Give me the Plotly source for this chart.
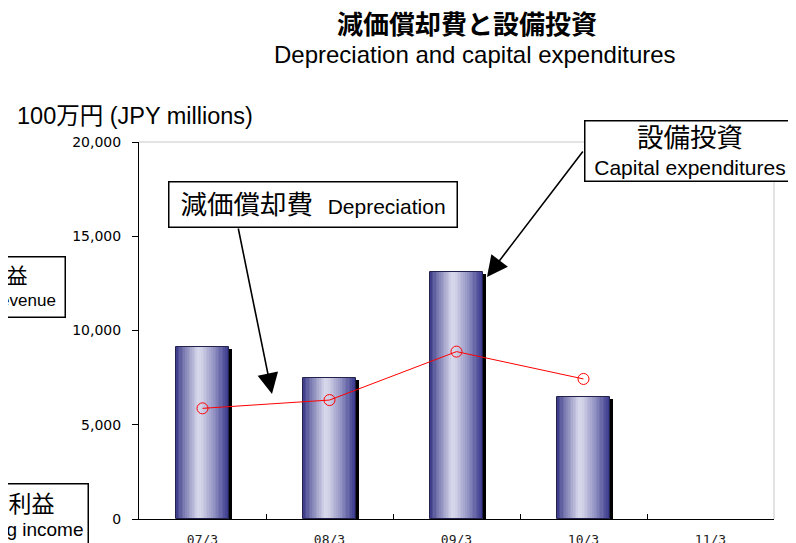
import plotly.graph_objects as go

# ─── Data ────────────────────────────────────────────────────────────
categories = ["07/3", "08/3", "09/3", "10/3", "11/3"]
capex = [9150, 7500, 13100, 6450, None]          # 設備投資 (bars)
depreciation = [5870, 6310, 8880, 7430, None]    # 減価償却費 (line)
y_ticks = [0, 5000, 10000, 15000, 20000]

# ─── Geometry / style ────────────────────────────────────────────────
# the page body adds an 8px margin, so the figure is shifted back by it
OFF = 8
W, H = 796, 543
L, R, T, B = 139 - OFF, 22 + OFF, 142 - OFF, 24 + OFF
BAR_W = 0.41
N_SLICES = 30
SANS = "Liberation Sans, Arial, Noto Sans CJK JP"
JP = "Noto Sans CJK JP"


def px(x):
    # page pixel (as seen in the screenshot) -> paper fraction
    return (x - OFF - L) / (W - L - R)


def py(y):
    return (H - B - (y - OFF)) / (H - T - B)


def bar_color(t):
    """Cylinder-like gradient: dark navy edges, pale lavender highlight."""
    dark_l, light, dark_r = (50, 50, 132), (216, 216, 236), (52, 52, 138)
    peak = 0.42
    if t <= peak:
        f = (t / peak) ** 0.8
        a, b = dark_l, light
    else:
        f = ((t - peak) / (1 - peak)) ** 1.3
        a, b = light, dark_r
    c = [round(a[i] + (b[i] - a[i]) * f) for i in range(3)]
    return f"rgb({c[0]},{c[1]},{c[2]})"


fig = go.Figure()

# shadow behind bars
shadow_dy = 2 * 20000 / (H - T - B)
fig.add_trace(go.Bar(
    x=categories,
    y=[v - shadow_dy if v is not None else None for v in capex],
    width=BAR_W, offset=-BAR_W / 2 + 3 / 127,
    marker=dict(color="black", line_width=0),
    hoverinfo="skip",
))

# gradient bars built from thin slices
sw = BAR_W / N_SLICES
for i in range(N_SLICES):
    fig.add_trace(go.Bar(
        x=categories, y=capex,
        width=sw * 1.15, offset=-BAR_W / 2 + i * sw,
        marker=dict(color=bar_color((i + 0.5) / N_SLICES), line_width=0),
        hoverinfo="skip",
    ))

# outline
fig.add_trace(go.Bar(
    x=categories, y=capex,
    width=BAR_W, offset=-BAR_W / 2,
    marker=dict(color="rgba(0,0,0,0)", line=dict(width=1, color="#22224a")),
    hovertemplate="%{x}: %{y:,}<extra>設備投資</extra>",
))

# depreciation line
fig.add_trace(go.Scatter(
    x=categories, y=depreciation,
    mode="lines+markers",
    line=dict(color="#ff0000", width=1),
    marker=dict(symbol="circle-open", size=11, color="#ff0000", line=dict(width=1)),
    hovertemplate="%{x}: %{y:,}<extra>減価償却費</extra>",
))

annotations = [
    # titles
    dict(x=px(467), y=py(22), text="<b>減価償却費と設備投資</b>",
         font=dict(family=JP, size=26, color="black")),
    dict(x=px(475), y=py(55), text="Depreciation and capital expenditures",
         font=dict(family=SANS, size=24, color="black")),
    dict(x=px(15), y=py(116), xanchor="left", text="100万円 (JPY millions)",
         font=dict(family=SANS, size=23.5, color="black")),
    # callout boxes
    dict(x=px(312.5), y=py(204), width=287, height=44,
         text="減価償却費  <span style='font-size:21px'>Depreciation</span>",
         font=dict(family=SANS, size=26.5, color="black")),
    dict(x=px(690), y=py(150.5), width=209, height=59,
         text="<span style='font-size:26.5px'>設備投資</span><br>Capital expenditures",
         font=dict(family=SANS, size=21, color="black")),
    # leftover boxes from neighbouring chart (clipped by page edge)
    dict(x=px(-15), y=py(286.5), width=158, height=59,
         text="<span style='font-size:21px'>営業収益</span><br>Operating revenue",
         font=dict(family=SANS, size=17, color="black")),
    dict(x=px(8), y=py(515), width=158, height=62,
         text="<span style='font-size:23px'>営業利益</span><br>Operating income",
         font=dict(family=SANS, size=19, color="black")),
]
for a in annotations:
    a.update(xref="paper", yref="paper", showarrow=False)
    a.setdefault("xanchor", "center")
    a.setdefault("yanchor", "middle")
    if "width" in a:
        a.update(bordercolor="black", borderwidth=1.5, borderpad=0,
                 bgcolor="white", align="center", valign="middle")

# arrows (tail -> tip, page pixels)
for (tx, ty), (hx, hy) in [((238, 227), (272, 394)), ((584, 150), (487, 277))]:
    annotations.append(dict(
        xref="paper", yref="paper", x=px(hx), y=py(hy),
        ax=tx - hx, ay=ty - hy, text="", showarrow=True,
        arrowhead=2, arrowsize=2.6, arrowwidth=1.6, arrowcolor="black",
    ))

fig.update_layout(
    width=W, height=H,
    margin=dict(l=L, r=R, t=T, b=B),
    paper_bgcolor="white", plot_bgcolor="white",
    barmode="overlay", bargap=0,
    showlegend=False,
    annotations=annotations,
    shapes=[
        dict(type="line", xref="paper", yref="paper", x0=0, x1=1, y0=1, y1=1,
             line=dict(color="#c8c8c8", width=1)),
        dict(type="line", xref="paper", yref="paper", x0=1, x1=1, y0=0, y1=1,
             line=dict(color="#c8c8c8", width=1)),
    ],
    xaxis=dict(
        type="category", categoryorder="array", categoryarray=categories,
        range=[-0.5, len(categories) - 0.5], automargin=False,
        showline=True, linecolor="black", linewidth=1,
        ticks="inside", tickson="boundaries", ticklen=5, tickcolor="black",
        showgrid=False, zeroline=False,
        tickfont=dict(family="DejaVu Sans Mono", size=13, color="#222"),
        ticklabelstandoff=8,
    ),
    yaxis=dict(
        range=[0, 20000], tickvals=y_ticks, tickformat=",", automargin=False,
        showline=True, linecolor="black", linewidth=1,
        ticks="outside", ticklen=6, tickcolor="black",
        showgrid=False, zeroline=False,
        tickfont=dict(family="DejaVu Sans", size=14, color="black"),
        ticklabelstandoff=8,
    ),
)

fig.write_html("out.html")
